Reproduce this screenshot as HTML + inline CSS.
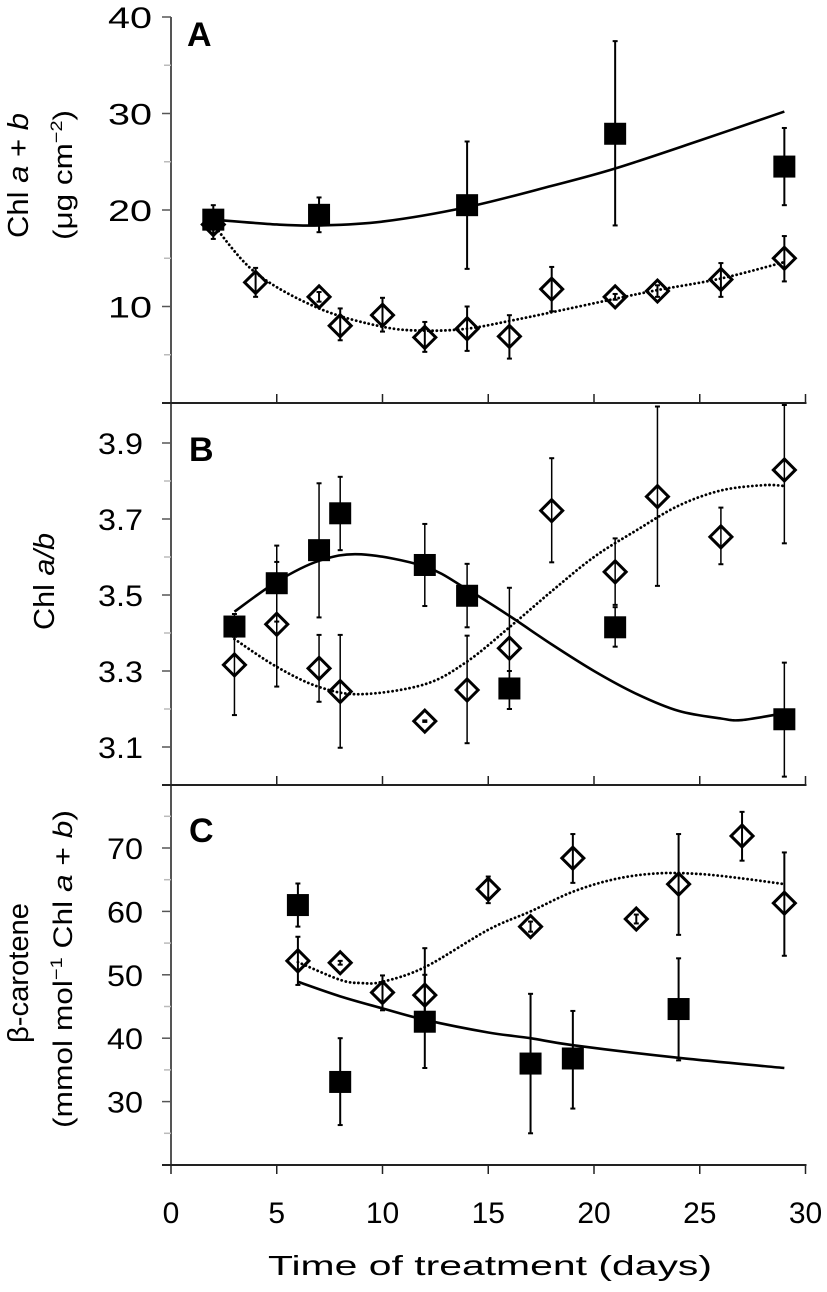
<!DOCTYPE html>
<html><head><meta charset="utf-8"><style>
html,body{margin:0;padding:0;background:#fff;}
svg{display:block;font-family:"Liberation Sans",Arial,sans-serif;}
</style></head><body>
<svg id="chart" width="827" height="1292" viewBox="0 0 827 1292" xmlns="http://www.w3.org/2000/svg">
<g id="axes"></g>
<g id="marks"></g>
<text x="187" y="46" font-size="34" font-weight="bold">A</text>
<text x="189" y="461" font-size="34" font-weight="bold">B</text>
<text x="189" y="842" font-size="34" font-weight="bold">C</text>
<text transform="translate(28,238) rotate(-90)" font-size="29" textLength="125" lengthAdjust="spacingAndGlyphs">Chl <tspan font-style="italic">a</tspan> + <tspan font-style="italic">b</tspan></text>
<text transform="translate(72,240) rotate(-90)" font-size="27" textLength="130" lengthAdjust="spacingAndGlyphs">(μg cm<tspan dy="-10" font-size="17">−2</tspan><tspan dy="10">)</tspan></text>
<text transform="translate(54,630) rotate(-90)" font-size="29" textLength="97" lengthAdjust="spacingAndGlyphs">Chl <tspan font-style="italic">a/b</tspan></text>
<text transform="translate(28,1043) rotate(-90)" font-size="29" textLength="140" lengthAdjust="spacingAndGlyphs">β-carotene</text>
<text transform="translate(72,1128) rotate(-90)" font-size="27" textLength="318" lengthAdjust="spacingAndGlyphs">(mmol mol<tspan dy="-10" font-size="17">−1</tspan><tspan dy="10"> Chl </tspan><tspan font-style="italic">a</tspan> + <tspan font-style="italic">b</tspan>)</text>
<text x="490" y="1275" font-size="28" text-anchor="middle" textLength="444" lengthAdjust="spacingAndGlyphs">Time of treatment (days)</text>
</svg>
<script>
// ---------- data ----------
const xTicks = [0, 5, 10, 15, 20, 25, 30];
const yTicksA = [10, 20, 30, 40];
const yTicksB = [3.1, 3.3, 3.5, 3.7, 3.9];
const yTickLabelsB = ["3.1", "3.3", "3.5", "3.7", "3.9"];
const yTicksC = [30, 40, 50, 60, 70];

// Panel A
const sqDaysA = [2, 7, 14, 21, 29];
const sqValsA = [19.0, 19.5, 20.5, 27.9, 24.5];
const sqHiA = [20.5, 21.3, 27.1, 37.5, 28.5];
const sqLoA = [17.5, 17.7, 13.9, 18.4, 20.5];
const diDaysA = [2, 4, 7, 8, 10, 12, 14, 16, 18, 21, 23, 26, 29];
const diValsA = [18.5, 12.5, 11.0, 8.0, 9.1, 6.8, 7.7, 6.9, 11.8, 11.0, 11.6, 12.8, 15.0];
const diHiA = [20.0, 14.0, 11.5, 9.8, 10.9, 8.4, 10.0, 9.1, 14.1, 11.3, 12.2, 14.5, 17.3];
const diLoA = [17.0, 11.0, 10.5, 6.5, 7.4, 5.3, 5.4, 4.6, 9.5, 10.7, 11.0, 11.0, 12.6];
const fitSqDaysA = [2, 5, 7, 10, 14, 18, 21, 25, 29];
const fitSqValsA = [19.0, 18.5, 18.4, 18.8, 20.3, 22.5, 24.3, 27.2, 30.2];
const fitDiDaysA = [2, 4, 7, 10, 12, 14, 16, 18, 21, 23, 26, 29];
const fitDiValsA = [18.5, 13.5, 9.8, 7.9, 7.5, 7.7, 8.5, 9.4, 10.8, 11.7, 12.9, 14.6];

// Panel B
const sqDaysB = [3, 5, 7, 8, 12, 14, 16, 21, 29];
const sqValsB = [3.417, 3.531, 3.618, 3.715, 3.579, 3.498, 3.254, 3.415, 3.173];
const sqHiB = [3.44, 3.63, 3.794, 3.811, 3.687, 3.582, 3.30, 3.468, 3.322];
const sqLoB = [3.39, 3.43, 3.441, 3.618, 3.471, 3.415, 3.20, 3.364, 3.022];
const diDaysB = [3, 5, 7, 8, 12, 14, 16, 18, 21, 23, 26, 29];
const diValsB = [3.316, 3.423, 3.307, 3.246, 3.168, 3.25, 3.36, 3.722, 3.561, 3.759, 3.653, 3.829];
const diHiB = [3.45, 3.587, 3.395, 3.395, 3.17, 3.393, 3.519, 3.86, 3.649, 3.996, 3.73, 4.0];
const diLoB = [3.184, 3.259, 3.219, 3.098, 3.166, 3.11, 3.2, 3.586, 3.474, 3.524, 3.581, 3.636];
const fitSqDaysB = [3, 5, 7, 9, 12, 14, 16, 18, 20, 22, 24, 26, 27, 29];
const fitSqValsB = [3.456, 3.535, 3.59, 3.607, 3.575, 3.515, 3.445, 3.37, 3.30, 3.24, 3.195, 3.175, 3.171, 3.189];
const fitDiDaysB = [3, 5, 7, 9, 12, 14, 16, 18, 20, 22, 24, 26, 28, 29];
const fitDiValsB = [3.384, 3.311, 3.258, 3.239, 3.265, 3.325, 3.415, 3.51, 3.60, 3.67, 3.735, 3.775, 3.789, 3.787];

// Panel C
const sqDaysC = [6, 8, 12, 17, 19, 24];
const sqValsC = [61.0, 33.1, 42.6, 36.0, 36.8, 44.6];
const sqHiC = [64.4, 40.0, 54.2, 47.0, 44.3, 52.6];
const sqLoC = [57.6, 26.3, 35.3, 25.0, 28.9, 36.5];
const diDaysC = [6, 8, 10, 12, 15, 17, 19, 22, 24, 27, 29];
const diValsC = [52.2, 51.9, 47.2, 46.8, 63.5, 57.6, 68.4, 58.8, 64.3, 71.9, 61.3];
const diHiC = [56.0, 52.2, 49.9, 50.0, 65.5, 58.4, 72.2, 59.5, 72.2, 75.7, 69.3];
const diLoC = [48.4, 51.6, 44.4, 43.6, 61.3, 56.8, 64.5, 58.1, 56.3, 68.0, 53.0];
const fitSqDaysC = [6, 8, 10, 12, 15, 17, 19, 24, 29];
const fitSqValsC = [48.9, 46.6, 44.7, 42.9, 40.9, 40.0, 38.9, 36.9, 35.3];
const fitDiDaysC = [6, 8, 9, 10, 12, 15, 17, 19, 21, 23, 25, 27, 29];
const fitDiValsC = [52.0, 49.2, 48.7, 48.9, 51.2, 57.1, 60.0, 63.1, 65.1, 66.0, 65.9, 65.2, 64.3];

// ---------- scales ----------
const X0 = 171, PXD = 21.15;
function xS(d) { return X0 + PXD * d; }
function yA(v) { return 403 - 9.65 * v; }
function yB(v) { return 785 - 380 * (v - 3.0); }
function yC(v) { return 1165 - 6.34 * (v - 20); }

const NS = "http://www.w3.org/2000/svg";
const axes = document.getElementById('axes');
const marks = document.getElementById('marks');
function mk(tag, parent, attrs) {
  const e = document.createElementNS(NS, tag);
  for (const k in attrs) e.setAttribute(k, attrs[k]);
  parent.appendChild(e);
  return e;
}

// ---------- axes ----------
let yAxis = mk('line', axes, {x1: X0, y1: 17, x2: X0, y2: 1165, stroke: '#555', 'stroke-width': 2});



[[403, -1, 'panel-a-x-axis'], [785, -1, 'panel-b-x-axis'], [1165, 1, 'panel-c-x-axis']].forEach(function (ax) {
  const g = mk('g', axes, {});
  
  
  mk('line', g, {x1: 162, y1: ax[0], x2: xS(30) + 1, y2: ax[0], stroke: '#222', 'stroke-width': 2});
  xTicks.forEach(function (t) {
    if (t === 0 && ax[1] < 0) return;
    mk('line', g, {x1: xS(t), y1: ax[0], x2: xS(t), y2: ax[0] + ax[1] * 9, stroke: '#222', 'stroke-width': 1.5});
  });
});

const xlab = mk('g', axes, {});


xTicks.forEach(function (t) {
  const tx = mk('text', xlab, {x: xS(t), y: 1223, 'font-size': 30, 'text-anchor': 'middle'});
  tx.textContent = String(t);
});

function yTicks(ticks, labels, yf, minors, right, width, name) {
  const g = mk('g', axes, {});
  
  
  minors.forEach(function (m) {
    mk('line', g, {x1: X0 - 7, y1: yf(m), x2: X0, y2: yf(m), stroke: '#bbb', 'stroke-width': 1.5});
  });
  ticks.forEach(function (t, i) {
    mk('line', g, {x1: X0 - 9, y1: yf(t), x2: X0, y2: yf(t), stroke: '#555', 'stroke-width': 1.5});
    const tx = mk('text', g, {x: right, y: yf(t) + 11, 'font-size': 30, 'text-anchor': 'end', textLength: width * labels[i].length / 2, lengthAdjust: 'spacingAndGlyphs'});
    tx.textContent = labels[i];
  });
}
yTicks(yTicksA, yTicksA.map(String), yA, [5, 15, 25, 35], 152, 44, 'panel-a-y-ticks');
yTicks(yTicksB, yTickLabelsB, yB, [3.2, 3.4, 3.6, 3.8], 143, 30, 'panel-b-y-ticks');
yTicks(yTicksC, yTicksC.map(String), yC, [25, 35, 45, 55, 65, 75], 143, 36, 'panel-c-y-ticks');

// ---------- marks ----------
function smoothPath(days, vals, yf) {
  const p = days.map(function (d, i) { return [xS(d), yf(vals[i])]; });
  let s = 'M' + p[0][0] + ',' + p[0][1];
  for (let i = 0; i < p.length - 1; i++) {
    const p0 = p[i - 1] || p[i], p1 = p[i], p2 = p[i + 1], p3 = p[i + 2] || p2;
    const c1 = [p1[0] + (p2[0] - p0[0]) / 6, p1[1] + (p2[1] - p0[1]) / 6];
    const c2 = [p2[0] - (p3[0] - p1[0]) / 6, p2[1] - (p3[1] - p1[1]) / 6];
    s += ' C' + c1[0] + ',' + c1[1] + ' ' + c2[0] + ',' + c2[1] + ' ' + p2[0] + ',' + p2[1];
  }
  return s;
}
function errBars(g, days, hi, lo, yf, w) {
  days.forEach(function (d, i) {
    const x = xS(d);
    mk('line', g, {x1: x, y1: yf(hi[i]), x2: x, y2: yf(lo[i]), stroke: '#000', 'stroke-width': w});
    mk('line', g, {x1: x - 2.5, y1: yf(hi[i]), x2: x + 2.5, y2: yf(hi[i]), stroke: '#000', 'stroke-width': 2});
    mk('line', g, {x1: x - 2.5, y1: yf(lo[i]), x2: x + 2.5, y2: yf(lo[i]), stroke: '#000', 'stroke-width': 2});
  });
}

function panel(key, yf, sqD, sqV, sqH, sqL, diD, diV, diH, diL, fsD, fsV, fdD, fdV, ew) {
  const g = mk('g', marks, {});
  
  

  const fitSq = mk('path', g, {d: smoothPath(fsD, fsV, yf), fill: 'none', stroke: '#000', 'stroke-width': 2.6});
  
  
  const fitDi = mk('path', g, {d: smoothPath(fdD, fdV, yf), fill: 'none', stroke: '#000', 'stroke-width': 2.8, 'stroke-dasharray': '0.1,4.2', 'stroke-linecap': 'round'});
  
  

  const eDi = mk('g', g, {});
  
  
  errBars(eDi, diD, diH, diL, yf, ew);
  const gDi = mk('g', g, {});
  
  
  diD.forEach(function (d, i) {
    const x = xS(d), y = yf(diV[i]), r = 11;
    const pt = mk('polygon', gDi, {points: x + ',' + (y - r) + ' ' + (x + r) + ',' + y + ' ' + x + ',' + (y + r) + ' ' + (x - r) + ',' + y, fill: 'none', stroke: '#000', 'stroke-width': 3});
    
    
  });

  const eSq = mk('g', g, {});
  
  
  errBars(eSq, sqD, sqH, sqL, yf, ew);
  const gSq = mk('g', g, {});
  
  
  sqD.forEach(function (d, i) {
    const s = 22;
    const r = mk('rect', gSq, {x: xS(d) - s / 2, y: yf(sqV[i]) - s / 2, width: s, height: s, fill: '#000'});
    
    
  });
}

panel('a', yA, sqDaysA, sqValsA, sqHiA, sqLoA, diDaysA, diValsA, diHiA, diLoA, fitSqDaysA, fitSqValsA, fitDiDaysA, fitDiValsA, 2);
panel('b', yB, sqDaysB, sqValsB, sqHiB, sqLoB, diDaysB, diValsB, diHiB, diLoB, fitSqDaysB, fitSqValsB, fitDiDaysB, fitDiValsB, 1.5);
panel('c', yC, sqDaysC, sqValsC, sqHiC, sqLoC, diDaysC, diValsC, diHiC, diLoC, fitSqDaysC, fitSqValsC, fitDiDaysC, fitDiValsC, 2);
</script>
</body></html>
